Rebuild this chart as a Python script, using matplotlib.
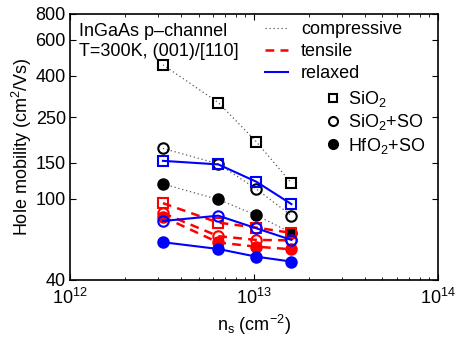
import matplotlib
matplotlib.use("Agg")
import matplotlib.pyplot as plt
from matplotlib.lines import Line2D
from matplotlib.ticker import FixedLocator, FixedFormatter, NullLocator

plt.rcParams['font.family'] = ['Liberation Sans', 'DejaVu Sans']
plt.rcParams['mathtext.fontset'] = 'custom'
plt.rcParams['mathtext.rm'] = 'Liberation Sans'
plt.rcParams['mathtext.it'] = 'Liberation Sans:italic'

ns = [3.2e12, 6.4e12, 1.03e13, 1.6e13]

# compressive
comp_sio2 = [451, 295, 190, 119]
comp_sio2_so = [176, 148, 111.5, 82.6]
comp_hfo2_so = [118, 99, 83, 68]
# tensile
tens_sio2 = [95, 76.3, 72.1, 68]
tens_sio2_so = [85, 65.5, 62.8, 62.5]
tens_hfo2_so = [81.5, 61, 58.2, 56.5]
# relaxed
rel_sio2 = [153, 147, 121, 94]
rel_sio2_so = [77.7, 82.5, 71.6, 62.8]
rel_hfo2_so = [61.2, 56.7, 52, 49.2]

yticks = [40, 100, 150, 250, 400, 600, 800]

FS = 13

fig = plt.figure(figsize=(4.55, 3.41), dpi=100)
ax = fig.add_axes([0.154, 0.179, 0.808, 0.780])

ms_sq = 6.5
ms_ci = 7.5
mew = 1.5
comp_ls = (0, (1, 2.2))
tens_ls = (0, (3.5, 2.5))

def draw(vals, color, ls, lw, marker, filled, lcolor=None):
    ms = ms_sq if marker == 's' else ms_ci
    ax.plot(ns, vals, color=lcolor or color, linestyle=ls, linewidth=lw, marker=marker,
            markersize=ms, markeredgewidth=mew, markeredgecolor=color,
            markerfacecolor=color if filled else 'none')

# compressive
for v, m, f in [(comp_sio2, 's', False), (comp_sio2_so, 'o', False), (comp_hfo2_so, 'o', True)]:
    draw(v, 'black', comp_ls, 0.9, m, f, lcolor='0.35')
# tensile
for v, m, f in [(tens_sio2, 's', False), (tens_sio2_so, 'o', False), (tens_hfo2_so, 'o', True)]:
    draw(v, 'red', tens_ls, 1.8, m, f)
# relaxed
for v, m, f in [(rel_sio2, 's', False), (rel_sio2_so, 'o', False), (rel_hfo2_so, 'o', True)]:
    draw(v, 'blue', '-', 1.5, m, f)

ax.set_xscale('log')
ax.set_yscale('log')
ax.set_xlim(1e12, 1e14)
ax.set_ylim(40, 800)
ax.yaxis.set_major_locator(FixedLocator(yticks))
ax.yaxis.set_major_formatter(FixedFormatter([str(t) for t in yticks]))
ax.yaxis.set_minor_locator(NullLocator())

ax.tick_params(which='both', direction='in', top=True, right=True, labelsize=FS)
ax.tick_params(which='major', length=4, width=0.8)
ax.tick_params(which='minor', length=2.5, width=0.6)
ax.tick_params(axis='x', pad=6)
ax.tick_params(axis='y', pad=3)
for s in ax.spines.values():
    s.set_linewidth(1.2)

ax.set_xlabel(r'n$_\mathregular{s}$ (cm$^{\mathregular{-2}}$)', fontsize=FS, labelpad=3)
ax.set_ylabel(r'Hole mobility (cm$^\mathregular{2}$/Vs)', fontsize=FS, labelpad=1)

ax.text(0.025, 0.965, 'InGaAs p\u2013channel\nT=300K, (001)/[110]', transform=ax.transAxes,
        ha='left', va='top', fontsize=FS, linespacing=1.2)

h1 = [Line2D([], [], color='0.35', linestyle=comp_ls, linewidth=0.9),
      Line2D([], [], color='red', linestyle=tens_ls, linewidth=1.8),
      Line2D([], [], color='blue', linestyle='-', linewidth=1.5)]
leg1 = ax.legend(h1, ['compressive', 'tensile', 'relaxed'], loc='upper left',
                 bbox_to_anchor=(0.51, 1.0), frameon=False, fontsize=FS,
                 handlelength=1.3, handletextpad=0.7, labelspacing=0.28, borderaxespad=0)
ax.add_artist(leg1)

h2 = [Line2D([], [], color='black', linestyle='none', marker='s', markersize=6,
             markeredgewidth=1.5, markerfacecolor='none'),
      Line2D([], [], color='black', linestyle='none', marker='o', markersize=6.5,
             markeredgewidth=1.5, markerfacecolor='none'),
      Line2D([], [], color='black', linestyle='none', marker='o', markersize=6.5,
             markeredgewidth=1.5, markerfacecolor='black')]
ax.legend(h2, [r'SiO$_\mathregular{2}$', r'SiO$_\mathregular{2}$+SO', r'HfO$_\mathregular{2}$+SO'],
          loc='upper left', bbox_to_anchor=(0.675, 0.745), frameon=False, fontsize=FS,
          handlelength=0.8, handletextpad=0.45, labelspacing=0.18, borderaxespad=0)

fig.savefig('out.png', dpi=100)
